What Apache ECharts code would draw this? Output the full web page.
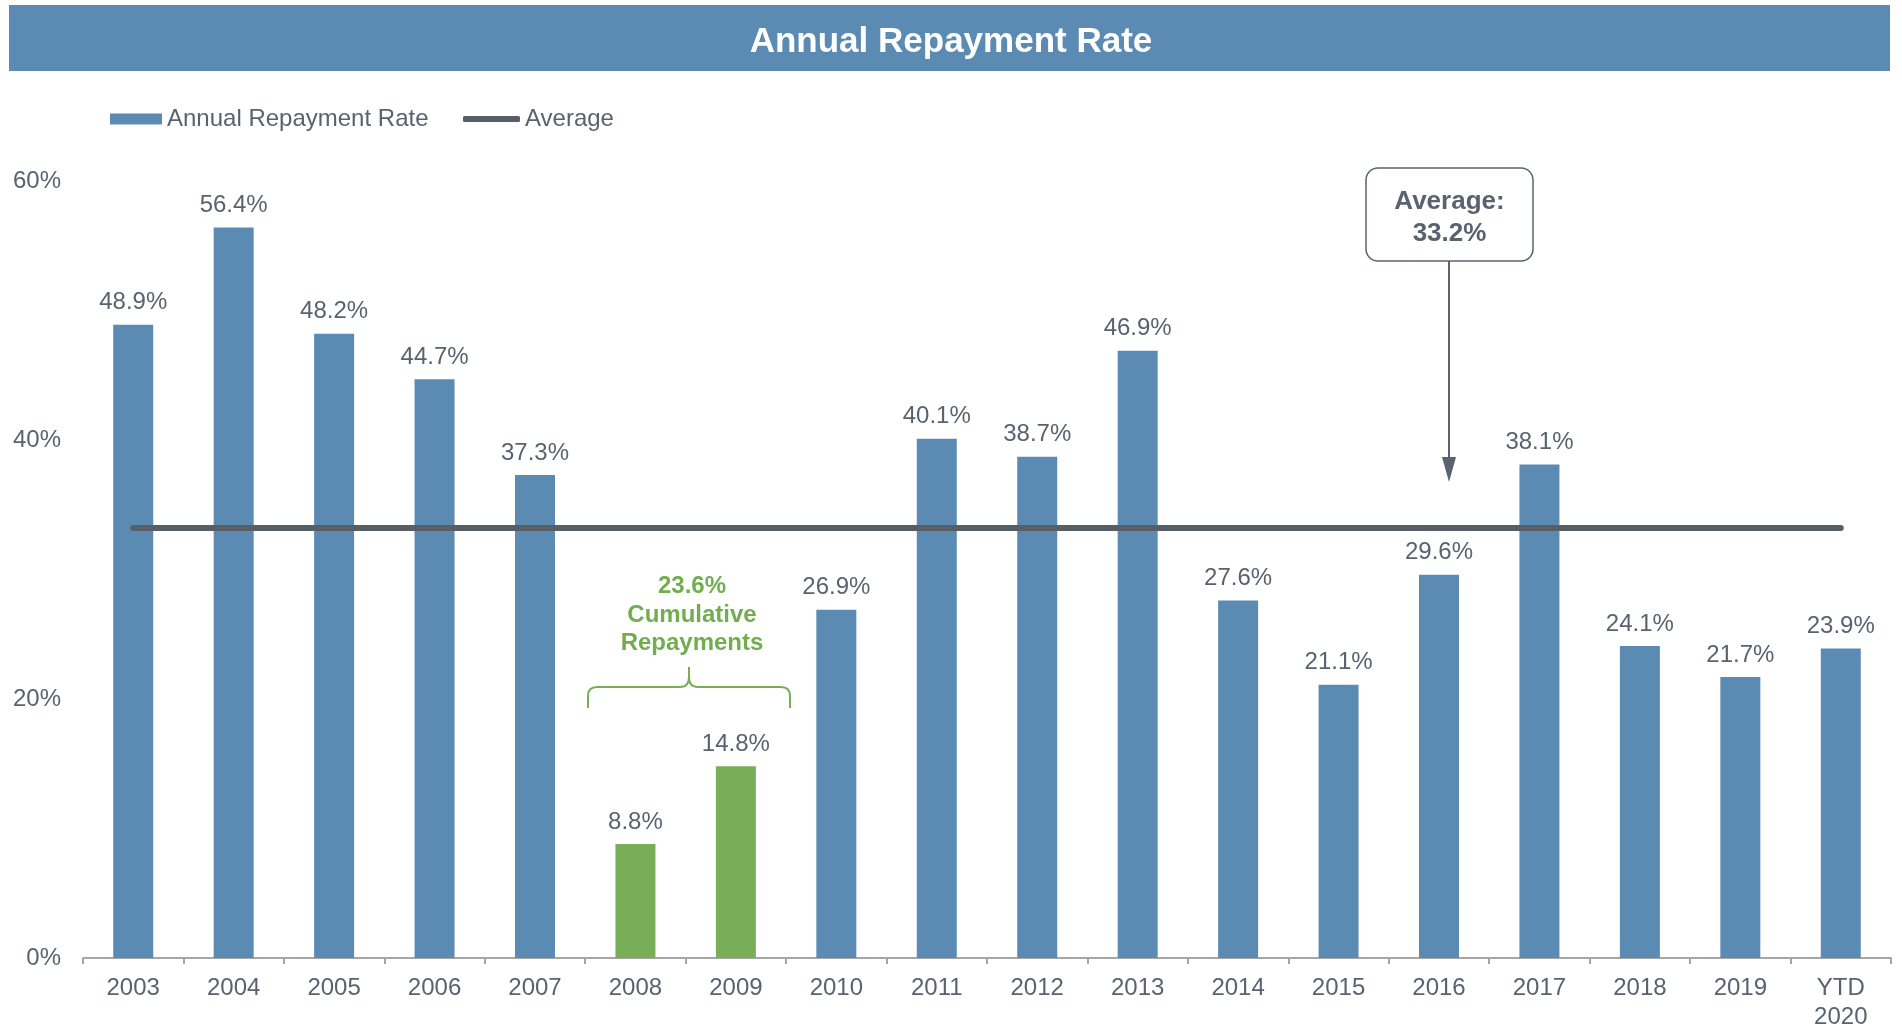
<!DOCTYPE html>
<html>
<head>
<meta charset="utf-8">
<script src="https://cdn.jsdelivr.net/npm/echarts@6/dist/echarts.min.js"></script>
<style>
  html, body { margin: 0; padding: 0; background: #fff; }
  #chart { width: 1902px; height: 1026px; }
</style>
</head>
<body>
<div id="chart"></div>
<script>
// Annual repayment rate by year (%)
const categories = ["2003", "2004", "2005", "2006", "2007", "2008", "2009", "2010", "2011",
  "2012", "2013", "2014", "2015", "2016", "2017", "2018", "2019", "YTD\n2020"];
const repaymentRate = [48.9, 56.4, 48.2, 44.7, 37.3, 8.8, 14.8, 26.9, 40.1,
  38.7, 46.9, 27.6, 21.1, 29.6, 38.1, 24.1, 21.7, 23.9];
const highlightYears = ["2008", "2009"];
const averageRate = 33.2;
const yTicks = [0, 20, 40, 60];

const BLUE = "#5b8bb3";
const GREEN = "#77ae57";
const GREEN_TEXT = "#72ad4f";
const TEXT = "#596370";
const FONT = "'Liberation Sans', Arial, sans-serif";

const chart = echarts.init(document.getElementById("chart"));

const barData = repaymentRate.map((v, i) => ({
  value: v,
  itemStyle: { color: highlightYears.includes(categories[i]) ? GREEN : BLUE }
}));

// brace pieces over 2008-2009
const braceStyle = { stroke: GREEN, lineWidth: 2, fill: "none" };
const brace = [
  { type: "line", shape: { x1: 588, y1: 708, x2: 588, y2: 696 } },
  { type: "bezierCurve", shape: { x1: 588, y1: 696, cpx1: 588, cpy1: 687, x2: 597, y2: 687 } },
  { type: "line", shape: { x1: 597, y1: 687, x2: 680, y2: 687 } },
  { type: "bezierCurve", shape: { x1: 680, y1: 687, cpx1: 689, cpy1: 687, x2: 689, y2: 677 } },
  { type: "line", shape: { x1: 689, y1: 677, x2: 689, y2: 667 } },
  { type: "bezierCurve", shape: { x1: 689, y1: 677, cpx1: 689, cpy1: 687, x2: 698, y2: 687 } },
  { type: "line", shape: { x1: 698, y1: 687, x2: 781, y2: 687 } },
  { type: "bezierCurve", shape: { x1: 781, y1: 687, cpx1: 790, cpy1: 687, x2: 790, y2: 696 } },
  { type: "line", shape: { x1: 790, y1: 696, x2: 790, y2: 708 } }
].map((g) => Object.assign(g, { style: braceStyle }));

const option = {
  animation: false,
  textStyle: { fontFamily: FONT },
  title: {
    text: "Annual Repayment Rate",
    left: "center",
    top: 20,
    textStyle: { color: "#fff", fontSize: 35, fontWeight: "bold", fontFamily: FONT }
  },
  legend: [
    {
      data: ["Annual Repayment Rate"],
      left: 110,
      top: 107,
      padding: 0,
      itemWidth: 52,
      itemHeight: 11,
      icon: "rect",
      textStyle: { color: TEXT, fontSize: 24, fontFamily: FONT }
    },
    {
      data: ["Average"],
      left: 463,
      top: 107,
      padding: 0,
      itemWidth: 57,
      itemHeight: 6,
      icon: "roundRect",
      textStyle: { color: TEXT, fontSize: 24, fontFamily: FONT }
    }
  ],
  grid: { left: 83, right: 11, top: 181, bottom: 68, outerBoundsMode: "none" },
  xAxis: {
    type: "category",
    data: categories,
    axisLine: { lineStyle: { color: "#a6a6a6", width: 2 } },
    axisTick: { show: true, length: 6, lineStyle: { color: "#a6a6a6", width: 2 } },
    axisLabel: { color: TEXT, fontSize: 24, margin: 16, interval: 0, lineHeight: 29, fontFamily: FONT }
  },
  yAxis: {
    type: "value",
    min: yTicks[0],
    max: yTicks[yTicks.length - 1],
    interval: 20,
    splitLine: { show: false },
    axisLine: { show: false },
    axisTick: { show: false },
    axisLabel: { color: TEXT, fontSize: 24, margin: 22, formatter: "{value}%", fontFamily: FONT }
  },
  series: [
    {
      name: "Annual Repayment Rate",
      type: "bar",
      barWidth: 40,
      itemStyle: { color: BLUE },
      data: barData,
      label: {
        show: true,
        position: "top",
        distance: 10,
        color: TEXT,
        fontSize: 24,
        fontFamily: FONT,
        formatter: (p) => p.value.toFixed(1) + "%"
      }
    },
    {
      name: "Average",
      type: "line",
      symbol: "none",
      z: 5,
      itemStyle: { color: "#575e66" },
      lineStyle: { color: "#575e66", width: 6, cap: "round" },
      data: categories.map(() => averageRate)
    }
  ],
  graphic: [
    // title band
    {
      type: "rect",
      z: -10,
      shape: { x: 9, y: 5, width: 1881, height: 66 },
      style: { fill: BLUE }
    },
    // average callout box
    {
      type: "rect",
      shape: { x: 1366, y: 168, width: 167, height: 93, r: 12 },
      style: { fill: "#fff", stroke: TEXT, lineWidth: 1.5 }
    },
    {
      type: "text",
      x: 1449.5,
      y: 218,
      style: {
        text: "Average:\n" + averageRate.toFixed(1) + "%",
        fill: TEXT,
        font: "bold 26px " + FONT,
        lineHeight: 32,
        align: "center",
        verticalAlign: "middle"
      }
    },
    {
      type: "line",
      shape: { x1: 1449, y1: 261, x2: 1449, y2: 460 },
      style: { stroke: TEXT, lineWidth: 2 }
    },
    {
      type: "polygon",
      shape: { points: [[1442, 457], [1456, 457], [1449, 482]] },
      style: { fill: TEXT }
    },
    ...brace,
    {
      type: "text",
      x: 692,
      y: 615,
      style: {
        text: "23.6%\nCumulative\nRepayments",
        fill: GREEN_TEXT,
        font: "bold 24px " + FONT,
        lineHeight: 28.5,
        align: "center",
        verticalAlign: "middle"
      }
    }
  ]
};

chart.setOption(option);
</script>
</body>
</html>
